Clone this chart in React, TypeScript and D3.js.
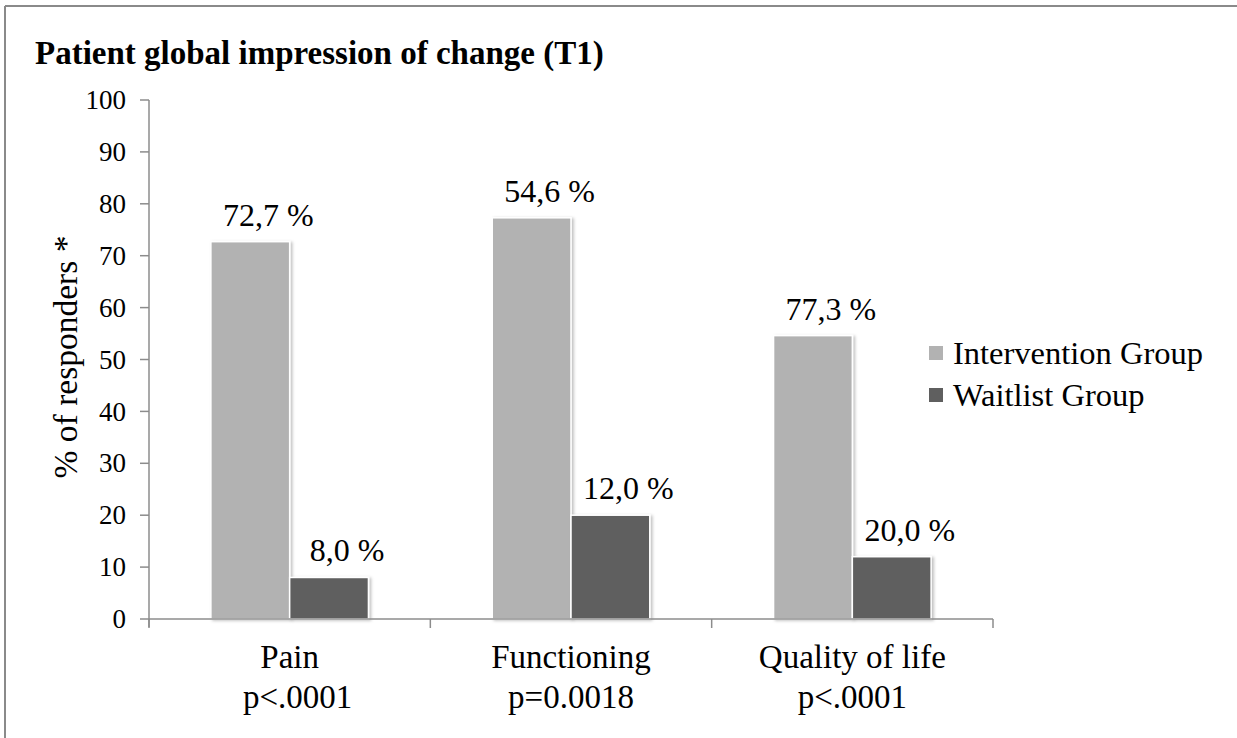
import React from 'react';
import * as d3 from 'd3';

const categories = ['Pain', 'Functioning', 'Quality of life'];
const pValues = ['p<.0001', 'p=0.0018', 'p<.0001'];
const groups = ['Intervention Group', 'Waitlist Group'];
// bar heights as drawn in the figure
const intervention = [72.7, 77.3, 54.6];
const waitlist = [8.0, 20.0, 12.0];
// the printed labels (they do not follow the bar heights in the original)
const interventionLabels = ['72,7 %', '54,6 %', '77,3 %'];
const waitlistLabels = ['8,0 %', '12,0 %', '20,0 %'];
const yTicks = [0, 10, 20, 30, 40, 50, 60, 70, 80, 90, 100];

const colors = ['#b2b2b2', '#5f5f5f'];
const font = '"Liberation Serif", "Times New Roman", serif';

export default function App() {
  const W = 1237, H = 738;
  const y = d3.scaleLinear().domain([0, 100]).range([619, 100]);
  const x0 = d3.scaleBand<string>().domain(categories).range([149, 993])
    .paddingInner(0.44).paddingOuter(0.22);
  const x1 = d3.scaleBand<string>().domain(groups).range([0, x0.bandwidth()]);
  const step = x0.step();
  const bounds = d3.range(categories.length + 1).map(i => 149 + i * step);

  const series = [intervention, waitlist];
  const labels = [interventionLabels, waitlistLabels];

  return (
    <svg width={W} height={H} style={{ position: 'absolute', left: 0, top: 0, background: '#fff' }}
      fontFamily={font}>
      <defs>
        <filter id="sh" x="-10%" y="-10%" width="130%" height="130%">
          <feDropShadow dx="2" dy="1" stdDeviation="1.5" floodColor="#000" floodOpacity="0.25" />
        </filter>
      </defs>
      <rect x={0} y={0} width={W} height={H} fill="#fff" />
      {/* frame */}
      <line x1={5} y1={6} x2={W} y2={6} stroke="#8a8a8a" strokeWidth={2} />
      <line x1={5} y1={6} x2={5} y2={H} stroke="#8a8a8a" strokeWidth={2} />

      <text x={35} y={64} fontSize={33} fontWeight="bold" fill="#000">
        Patient global impression of change (T1)
      </text>

      {/* y axis */}
      <line x1={149} y1={y(100)} x2={149} y2={y(0) + 8} stroke="#8c8c8c" strokeWidth={1.5} />
      {yTicks.map(t => (
        <g key={t}>
          <line x1={140} x2={149} y1={y(t)} y2={y(t)} stroke="#8c8c8c" strokeWidth={1.5} />
          <text x={126} y={y(t)} dy="0.34em" textAnchor="end" fontSize={27}>{t}</text>
        </g>
      ))}
      <text transform={`translate(77,357) rotate(-90)`} textAnchor="middle" fontSize={33.5}>
        % of responders *
      </text>

      {/* bars */}
      {categories.map((c, i) => (
        <g key={c} transform={`translate(${x0(c)},0)`}>
          {groups.map((g, j) => {
            const v = series[j][i];
            const bx = x1(g) as number;
            return (
              <g key={g}>
                <rect x={bx} y={y(v)} width={x1.bandwidth()} height={y(0) - y(v)}
                  fill={colors[j]} stroke="#fff" strokeWidth={1.5} filter="url(#sh)" />
                <text x={bx + x1.bandwidth() / 2 + 18} y={y(v) - 16} textAnchor="middle" fontSize={32}>
                  {labels[j][i]}
                </text>
              </g>
            );
          })}
        </g>
      ))}

      {/* x axis */}
      <line x1={149} x2={993} y1={y(0)} y2={y(0)} stroke="#8c8c8c" strokeWidth={1.5} />
      {bounds.map((b, i) => (
        <line key={i} x1={b} x2={b} y1={y(0)} y2={y(0) + 9} stroke="#8c8c8c" strokeWidth={1.5} />
      ))}
      {categories.map((c, i) => (
        <g key={c}>
          <text x={(x0(c) as number) + x0.bandwidth() / 2} y={668} textAnchor="middle" fontSize={33}>{c}</text>
          <text x={(x0(c) as number) + x0.bandwidth() / 2 + (i === 0 ? 8 : 0)} y={708} textAnchor="middle" fontSize={33}>{pValues[i]}</text>
        </g>
      ))}

      {/* legend */}
      {groups.map((g, j) => (
        <g key={g} transform={`translate(929,${346 + j * 42})`}>
          <rect x={0} y={0} width={14} height={14} fill={colors[j]} />
          <text x={24} y={18} fontSize={32.5}>{g}</text>
        </g>
      ))}
    </svg>
  );
}
